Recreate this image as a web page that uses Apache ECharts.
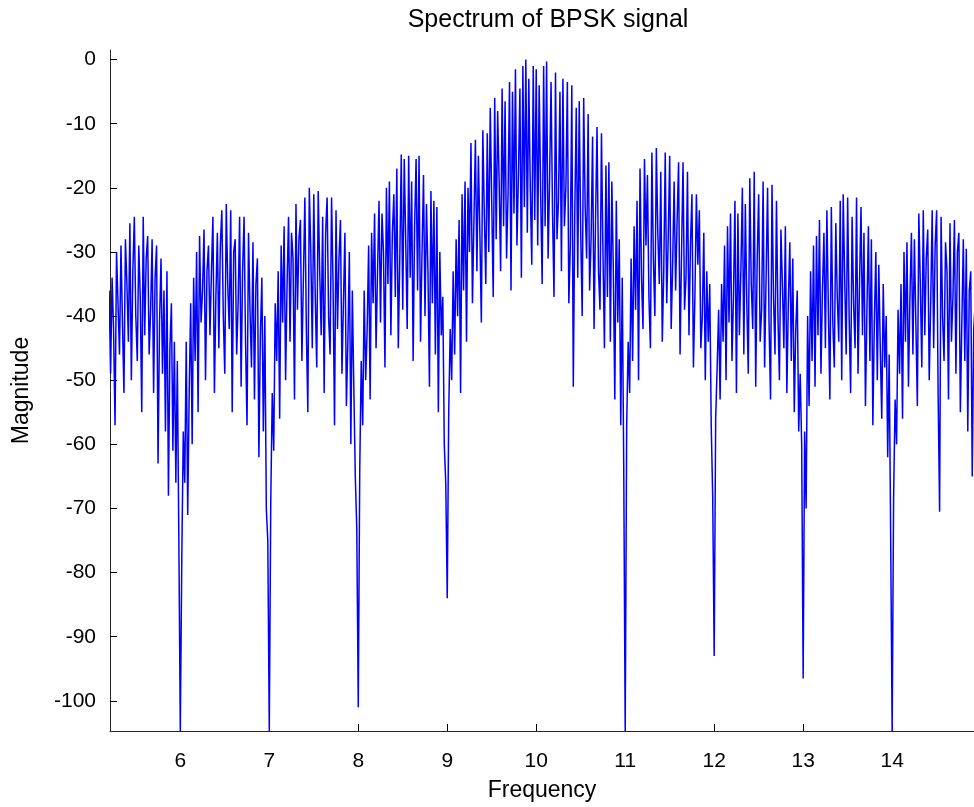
<!DOCTYPE html>
<html>
<head>
<meta charset="utf-8">
<title>Spectrum of BPSK signal</title>
<script src="https://cdn.jsdelivr.net/npm/echarts@6/dist/echarts.min.js"></script>
<style>
  html, body { margin: 0; padding: 0; background: #fff; }
  #spectrum { width: 974px; height: 807px; }
</style>
</head>
<body>
<div id="spectrum"></div>
<script>
// spectrum magnitude (dB), one array per lobe
// frequency step is 1/60, every lobe array starts at its null (the first one at 5.2)
var df = 1 / 60
var lobeStart = [5.2, 6, 7, 8, 9, 10, 11, 12, 13, 14]

var mag5 = [-36, -49, -34, -42, -57, -30, -38, -46, -29,
    -41, -52, -28, -35, -44, -25.5, -50, -33, -24.5,
    -40, -47, -29, -37, -55, -24.5, -43, -31, -27.5,
    -46, -39, -28, -52, -34, -29, -63, -41, -31,
    -49, -36, -58, -33, -68, -45, -38, -61, -44, -66, -47, -74]
var mag6 = [-104.7, -78, -58, -66, -44, -71, -52, -38, -60, -34,
    -47, -30, -55, -27.5, -41, -36, -26.5, -50, -33, -29,
    -43, -33, -24.5, -52, -37, -27, -45, -29, -23.5, -40,
    -49, -22.5, -35, -42, -23.5, -55, -30, -28, -46, -38,
    -24.5, -51, -33, -24.5, -44, -57, -27, -39, -48, -28.5,
    -53, -35, -31, -62, -43, -34, -58, -40, -70, -75]
var mag7 = [-104.7, -69, -52, -61, -38, -47, -33, -56, -29, -41,
    -26, -50, -35, -24.5, -44, -27, -31, -53, -22.5, -39,
    -28, -25, -47, -34, -21.5, -42, -55, -20, -30, -45,
    -21, -37, -48, -20.5, -33, -43, -24.5, -52, -27, -21.5,
    -40, -46, -21.5, -35, -57, -23.5, -42, -31, -25, -49,
    -38, -27, -54, -44, -30, -60, -36, -51, -65, -73]
var mag8 = [-101, -64, -47, -57, -36, -50, -42, -29, -53, -27,
    -38, -24, -45, -33, -22, -41, -24, -30, -48, -20,
    -35, -19, -43, -27, -21, -37, -17, -45, -31, -14.8,
    -39, -15.5, -28, -42, -15, -34, -19, -47, -26, -15.5,
    -36, -15, -44, -30, -18, -40, -22.5, -33, -51, -20.5,
    -38, -22, -46, -23, -55, -30, -43, -37, -60, -66]
var mag9 = [-84, -55, -42, -50, -33, -46, -28, -40, -25, -52,
    -21, -36, -19, -44, -20, -30, -13, -38, -25, -12.5,
    -33, -15, -27, -41, -11, -24, -35, -11.5, -30, -7.5,
    -22, -37, -6, -28, -8, -19, -33, -4.5, -26, -6.5,
    -31, -21, -3.5, -36, -5, -24, -1.5, -29, -18, -4.5,
    -34, -1, -23, 0, -27, -3, -20, -32, -1, -25]
var mag10 = [-1.5, -29, -4, -21, -35, -1, -26, -0.3, -31, -19,
    -3.5, -24, -37, -2, -28, -22, -5, -33, -3, -26,
    -20, -3.5, -38, -29, -4, -51, -24, -7.5, -34, -6.5,
    -27, -40, -6, -23, -31, -8.5, -36, -28, -12, -42,
    -25, -10.5, -33, -39, -11.5, -30, -45, -16.5, -37, -16,
    -44, -19, -33, -53, -22, -41, -28, -57, -34, -63]
var mag11 = [-104.7, -57, -44, -52, -31, -47, -26, -39, -22, -50,
    -17, -34, -42, -15.5, -29, -18, -37, -45, -14.5, -31,
    -40, -13.8, -27, -35, -17.5, -44, -33, -14.5, -38, -28,
    -15, -42, -32, -19, -36, -25, -16, -46, -30, -16,
    -39, -34, -17.5, -43, -29, -21, -48, -37, -21, -32,
    -23.5, -45, -40, -27, -50, -33, -44, -35, -57, -68]
var mag12 = [-93, -56, -48, -39, -53, -35, -44, -29, -50, -26,
    -41, -24, -47, -37, -22, -52, -24, -43, -33, -20,
    -46, -22.5, -38, -49, -18.5, -35, -42, -17.5, -51, -31,
    -21, -44, -39, -19, -48, -34, -20, -41, -53, -19.5,
    -37, -46, -22, -40, -50, -26.5, -35, -45, -26, -52,
    -38, -28.5, -47, -31, -55, -42, -36, -58, -49, -60]
var mag13 = [-96.5, -58, -70, -40, -54, -33, -47, -29, -51, -27.5,
    -43, -25, -49, -36, -27, -45, -23.5, -39, -53, -23,
    -41, -48, -25.5, -37, -44, -22, -50, -21, -34, -46,
    -21.5, -40, -52, -24.5, -38, -45, -21.5, -49, -35, -23,
    -43, -27, -54, -39, -26, -47, -28, -57, -41, -30,
    -50, -32, -45, -56, -35, -48, -40, -62, -46, -74]
var mag14 = [-104.7, -68, -53, -60, -39, -49, -35, -56, -30, -44,
    -28.5, -51, -37, -27, -46, -28, -41, -54, -24, -35,
    -48, -23.5, -43, -31, -26.5, -50, -38, -23.5, -45, -29,
    -23.5, -52, -70.5, -24.5, -40, -47, -28.5, -33, -53, -25.5,
    -44, -37, -25, -49, -30, -27, -55, -41, -28, -47,
    -29.5, -58, -36, -33, -65, -42, -38]

var lobes = [mag5, mag6, mag7, mag8, mag9, mag10, mag11, mag12, mag13, mag14]

var xTicks = [6, 7, 8, 9, 10, 11, 12, 13, 14]
var yTicks = [0, -10, -20, -30, -40, -50, -60, -70, -80, -90, -100]

function buildSeries() {
    var pts = []
    for (var s = 0; s < lobes.length; s++) {
        for (var j = 0; j < lobes[s].length; j++) {
            pts.push([lobeStart[s] + j * df, lobes[s][j]])
        }
    }
    return pts
}

function createSpectrum(data) {
    var chart = echarts.init(document.getElementById('spectrum'))
    var font = 'Liberation Sans, Arial, sans-serif'
    var option = {
        animation: false,
        backgroundColor: '#fff',
        title: {
            text: 'Spectrum of BPSK signal',
            left: 543,
            top: 3,
            textAlign: 'center',
            textStyle: { fontFamily: font, fontSize: 25, fontWeight: 'normal', color: '#000' }
        },
        grid: { left: 110, right: 0, top: 50, bottom: 74 },
        xAxis: {
            type: 'value',
            min: 5.21,
            max: 14.92,
            name: 'Frequency',
            nameLocation: 'middle',
            nameGap: 48,
            nameTextStyle: { fontFamily: font, fontSize: 23, color: '#000' },
            axisLine: { onZero: false, lineStyle: { color: '#262626', width: 1 } },
            axisTick: { inside: true, length: 7, customValues: xTicks, lineStyle: { color: '#000' } },
            axisLabel: { customValues: xTicks, margin: 20, fontFamily: font, fontSize: 21, color: '#000' },
            splitLine: { show: false }
        },
        yAxis: {
            type: 'value',
            min: -104.7,
            max: 1.5,
            name: 'Magnitude',
            nameLocation: 'middle',
            nameGap: 77,
            nameTextStyle: { fontFamily: font, fontSize: 23, color: '#000' },
            axisLine: { show: true, onZero: false, lineStyle: { color: '#262626', width: 1 } },
            axisTick: { show: true, inside: true, length: 7, customValues: yTicks, lineStyle: { color: '#000' } },
            axisLabel: { customValues: yTicks, margin: 14, fontFamily: font, fontSize: 21, color: '#000' },
            splitLine: { show: false }
        },
        series: [
            {
                name: 'spectrum',
                type: 'line',
                data: data,
                showSymbol: false,
                symbol: 'none',
                clip: true,
                lineStyle: { color: '#0000ff', width: 1.5 }
            }
        ]
    }
    chart.setOption(option)
}

createSpectrum(buildSeries())
</script>
</body>
</html>
